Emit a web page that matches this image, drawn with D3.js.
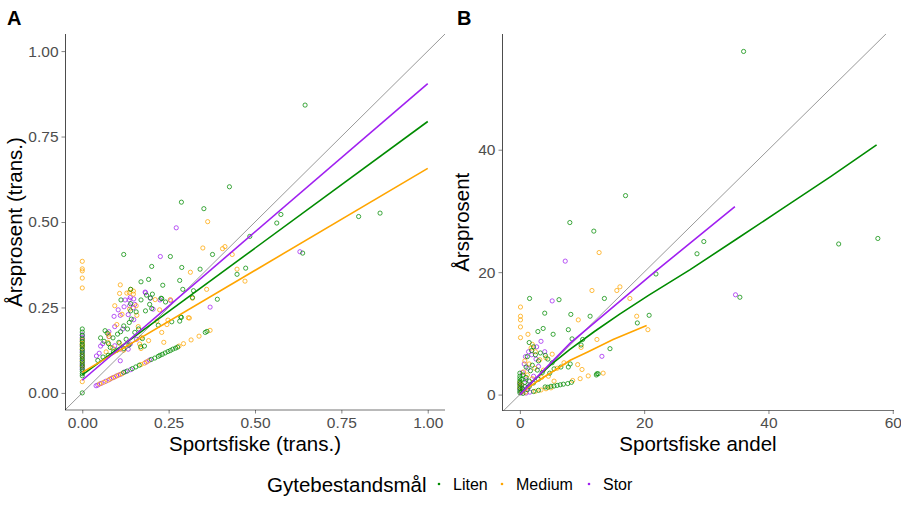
<!DOCTYPE html>
<html><head><meta charset="utf-8">
<script src="https://cdn.jsdelivr.net/npm/d3@7"></script>
<style>
body{margin:0;background:#fff;}
svg{font-family:"Liberation Sans",Arial,sans-serif;}
</style></head>
<body><svg id="c" width="901" height="507"></svg>
<script>
// ---------- DATA ----------
const groups = ["Liten","Medium","Stor"];
const groupColors = ["#008B00","#FFA500","#A020F0"];
const ticksA = [0,0.25,0.5,0.75,1];
const ticksBx = [0,20,40,60];
const ticksBy = [0,20,40];

// Panel A (transformed) points
const aLiten = [[0.645,0.842],[0.426,0.603],[0.287,0.558],[0.352,0.539],[0.800,0.516],[0.862,0.526],[0.575,0.522],[0.563,0.497],[0.485,0.458],[0.638,0.409],[0.377,0.405],[0.255,0.399],[0.120,0.405],[0.201,0.370],[0.288,0.367],[0.341,0.362],[0.473,0.365],[0.448,0.347],[0.282,0.329],[0.170,0.325],[0.233,0.315],[0.192,0.332],[0.291,0.303],[0.322,0.299],[0.319,0.279],[0.391,0.274],[0.230,0.276],[0.140,0.303],[0.259,0.208],[0.282,0.210],[0.287,0.221],[0.220,0.198],
[0.112,0.272],[0.140,0.261],[0.195,0.259],[0.197,0.278],[0.186,0.286],[0.203,0.289],[0.170,0.272],[0.156,0.237],[0.140,0.240],[0.183,0.240],[0.201,0.247],[0.228,0.277],[0.241,0.266],[0.136,0.206],[0.142,0.216],[0.131,0.187],[0.120,0.196],[0.111,0.179],[0.102,0.172],[0.089,0.161],[0.066,0.182],[0.053,0.161],[0.076,0.144],[0.063,0.151],[0.072,0.175],[0.180,0.137],[0.174,0.159],[0.169,0.135],[0.152,0.177],[0.163,0.187],[0.106,0.148],[0.127,0.157],[0.081,0.133],[0.285,0.222],[0.045,0.095],[0.060,0.105],[0.075,0.110],[0.090,0.120],[0.100,0.125],[0.120,0.130],[0.135,0.140],
[0,0.187],[0,0.178],[0,0.168],[0,0.158],[0,0.150],[0,0.142],[0,0.135],[0,0.127],[0,0.120],[0,0.113],[0,0.106],[0,0.099],[0,0.092],[0,0.085],[0,0.078],[0,0.070],[0,0.063],[0,0.056],[0,0.050],[0,0.0],
[0.120,0.060],[0.130,0.064],[0.145,0.071],[0.155,0.076],[0.165,0.081],[0.200,0.098],[0.210,0.102],[0.220,0.107],[0.225,0.110],[0.232,0.113],[0.240,0.117],[0.248,0.121],[0.255,0.124],[0.262,0.128],[0.270,0.131],[0.276,0.134],[0.361,0.180],[0.356,0.177]];
const aMedium = [[0.363,0.501],[0.349,0.424],[0.406,0.422],[0.413,0.428],[0.434,0.405],[0.448,0.362],[0.471,0.327],[0.313,0.353],[0.360,0.303],[0.319,0.277],[0.255,0.273],[0.110,0.316],[0.310,0.219],[0.230,0.177],[0.236,0.148],
[0.140,0.303],[0.136,0.294],[0.148,0.298],[0.148,0.289],[0.129,0.292],[0.108,0.291],[0.137,0.245],[0.156,0.255],[0.158,0.227],[0.162,0.194],[0.211,0.273],[0.224,0.243],[0.216,0.210],[0.245,0.200],[0.076,0.172],[0.078,0.165],[0.074,0.148],[0.087,0.132],[0.108,0.145],[0.094,0.255],[0.166,0.143],[0.171,0.162],[0.192,0.153],[0.069,0.120],[0.248,0.213],[0.307,0.220],[0.115,0.230],[0.100,0.200],[0.120,0.125],[0.170,0.130],
[0,0.385],[0,0.363],[0,0.357],[0,0.336],[0,0.307],[0,0.155],[0,0.145],[0,0.140],[0,0.130],[0,0.110],[0,0.095],[0,0.080],[0,0.033],
[0.050,0.026],[0.062,0.031],[0.075,0.037],[0.085,0.043],[0.095,0.047],[0.105,0.052],[0.115,0.056],[0.170,0.083],[0.180,0.087],[0.190,0.093],[0.280,0.137],[0.293,0.144],[0.315,0.155],[0.338,0.166],[0.370,0.183]];
const aStor = [[0.272,0.483],[0.226,0.399],[0.183,0.293],[0.370,0.251],[0.197,0.277],[0.630,0.413],
[0.124,0.272],[0.136,0.272],[0.149,0.275],[0.139,0.279],[0.152,0.259],[0.137,0.255],[0.121,0.252],[0.148,0.249],[0.092,0.224],[0.110,0.227],[0.104,0.243],[0.133,0.229],[0.149,0.214],[0.182,0.295],[0.205,0.245],[0.225,0.272],[0.256,0.270],[0.077,0.179],[0.059,0.144],[0.053,0.137],[0.041,0.108],[0.049,0.116],[0.077,0.165],[0.094,0.138],[0.110,0.128],[0.117,0.187],[0.139,0.143],[0.110,0.094],[0.157,0.157],[0.133,0.128],[0.094,0.194],
[0,0.170],[0,0.162],[0,0.152],[0,0.138],[0,0.125],[0,0.118],[0,0.108],[0,0.100],[0,0.090],[0,0.082],[0,0.075],[0,0.068],
[0.040,0.021],[0.045,0.023],[0.055,0.028],[0.068,0.034],[0.080,0.040],[0.090,0.045],[0.100,0.050],[0.110,0.054],[0.125,0.062],[0.140,0.068],[0.185,0.090],[0.195,0.096]];

// Panel A fitted lines
const aFitLiten = [[0,0.053],[1,0.794]];
const aFitMedium = [[0,0.060],[1,0.657]];
const aFitStor = [[0,0.037],[1,0.905]];

// Panel B (raw share) points
const bLiten = [[36.0,56.05],[17.0,32.5],[8.04,28.1],[11.9,26.7],[57.6,25.5],[51.3,24.6],[29.6,25.0],[28.5,23.0],[21.9,19.7],[35.4,15.9],[1.56,15.7],[6.3,15.5],[13.6,15.7],[4.0,13.3],[8.2,13.1],[11.3,12.8],[20.8,12.95],[18.9,11.7],[3.75,10.8],[2.9,10.3],[7.8,10.6],[5.35,9.85],[8.4,9.1],[10.1,9.0],[9.85,8.1],[14.5,7.5],[12.4,3.4],[7.8,4.5],[6.6,4.5],[8.1,5.0],
[1.5,8.5],[2.2,7.8],[1.9,7.2],[1.2,6.2],[2.5,6.5],[3.3,6.8],[4.1,6.4],[3.0,5.5],[4.5,5.8],[5.2,5.2],[1.0,4.5],[2.0,4.8],[1.7,3.9],[2.8,4.0],[3.6,3.6],[4.8,3.5],[0.5,3.2],[1.0,2.8],[0.3,2.5],[0.8,2.0],[1.5,2.2],[2.2,1.9],[0,3.5],[0,3.0],[0,2.6],[0,2.2],[0,1.8],[0,1.4],[0,1.0],[0,0.6],[0,0.3],[0.4,1.0],[0.8,1.3],[1.2,0.8],[0.5,0.2],[1.5,1.3],[3.0,2.5],[5.5,4.2],[0.3,0.6],
[2.2,0.5],[3.0,0.7],[4.07,1.25],[4.5,1.2],[5.0,1.35],[5.5,1.4],[6.0,1.5],[6.5,1.6],[7.0,1.7],[7.7,1.8],[8.3,2.0],[12.3,3.2],[12.6,3.4]];
const bMedium = [[12.75,23.2],[11.6,17.0],[15.6,17.0],[16.1,17.6],[17.7,15.7],[18.8,12.8],[20.6,10.6],[9.4,12.2],[12.4,9.0],[9.85,7.7],[9.3,4.9],[13.4,3.5],[11.0,3.05],[9.7,2.6],[8.5,2.3],[0.1,14.3],[0.1,12.8],[0.1,12.2],[0.1,11.05],[0.1,9.3],[1.3,9.85],[10.0,4.1],[6.0,4.3],[7.1,5.2],[5.2,6.6],
[2.0,8.2],[1.8,7.6],[2.5,7.0],[0.8,5.5],[1.5,5.0],[3.2,5.7],[4.2,6.0],[2.4,4.3],[3.8,4.0],[0.6,3.7],[1.2,3.2],[2.0,2.6],[0,2.0],[0,1.2],[0.3,0.5],[0.9,0.4],[3.5,2.8],[4.6,3.0],[5.5,2.2],[0.2,1.6],
[2.5,0.55],[3.4,0.75],[4.2,0.95],[5.0,1.1]];
const bStor = [[7.3,21.8],[5.2,15.3],[34.7,16.3],[13.2,6.25],[3.4,8.7],
[2.7,7.8],[1.4,7.0],[0.9,6.2],[1.9,6.5],[2.6,5.8],[0.7,5.0],[1.3,4.3],[3.0,4.6],[0.4,3.6],[1.0,2.4],[0.3,1.5],[0.6,0.8],[0,1.7],[0,0.9],[1.6,1.6],[2.2,3.0],[0.2,0.3],[1.2,1.1],[4.0,7.0],
[1.0,0.25],[1.6,0.4]];

// Panel B fitted (back-transformed) lines
const bFitLiten = [[0,0],[2,2.1],[5,4.9],[8,7.35],[12,10.3],[16,13.1],[20.7,16.2],[27.4,20.4],[35,25.5],[42,30.2],[50,35.6],[57.4,40.8]];
const bFitMedium = [[0,0],[1,0.9],[3,2.3],[5.5,3.9],[8.1,5.6],[11,7.0],[15,9.0],[20.4,11.3]];
const bFitStor = [[0,0],[8.1,8.4],[21.9,20.2],[34.6,30.7]];

// ---------- DRAW ----------
const svg = d3.select("#c");
const FONT = '"Liberation Sans",Arial,sans-serif';
const drawOrder = [2,1,0];

function panel(opt){
  const g = svg.append("g");
  const x = d3.scaleLinear().domain(opt.xd).range([opt.l, opt.r]);
  const y = d3.scaleLinear().domain(opt.yd).range([opt.b, opt.t]);
  const cid = "clip"+opt.label;
  svg.append("clipPath").attr("id",cid).append("rect")
    .attr("x",opt.l).attr("y",opt.t).attr("width",opt.r-opt.l).attr("height",opt.b-opt.t);
  const plot = g.append("g").attr("clip-path",`url(#${cid})`);
  // points
  drawOrder.forEach(i=>{
    plot.append("g").selectAll("circle").data(opt.points[i]).join("circle")
      .attr("cx",d=>x(d[0])).attr("cy",d=>y(d[1])).attr("r",2.1)
      .attr("fill","none").attr("stroke",groupColors[i]).attr("stroke-width",0.75);
  });
  // 1:1 line
  const lo = Math.min(opt.xd[0],opt.yd[0]), hi = Math.max(opt.xd[1],opt.yd[1]);
  plot.append("line").attr("x1",x(lo)).attr("y1",y(lo)).attr("x2",x(hi)).attr("y2",y(hi))
    .attr("stroke","#333").attr("stroke-width",0.5);
  // fit lines
  const line = d3.line().x(d=>x(d[0])).y(d=>y(d[1]));
  opt.fits.forEach((f,i)=>{
    plot.append("path").attr("d",line(f)).attr("fill","none")
      .attr("stroke",groupColors[i]).attr("stroke-width",1.6);
  });
  // axes
  const ax = g.append("g").attr("transform",`translate(0,${opt.b})`)
    .call(d3.axisBottom(x).tickValues(opt.xt).tickFormat(opt.fmt).tickSize(3.5).tickPadding(3));
  const ay = g.append("g").attr("transform",`translate(${opt.l},0)`)
    .call(d3.axisLeft(y).tickValues(opt.yt).tickFormat(opt.fmt).tickSize(3.5).tickPadding(3));
  [ax,ay].forEach(a=>{
    a.select(".domain").remove();
    a.selectAll(".tick line").attr("stroke","#333").attr("stroke-width",0.6);
    a.selectAll(".tick text").attr("fill","#4D4D4D").style("font-size","15.5px").style("font-family",FONT);
  });
  ax.selectAll(".tick text").attr("dy","0.71em");
  g.append("line").attr("x1",opt.l).attr("x2",opt.r).attr("y1",opt.b).attr("y2",opt.b)
    .attr("stroke","#000").attr("stroke-width",0.55);
  g.append("line").attr("x1",opt.l+0.5).attr("x2",opt.l+0.5).attr("y1",opt.t).attr("y2",opt.b)
    .attr("stroke","#000").attr("stroke-width",0.7);
  // titles
  g.append("text").attr("x",(opt.l+opt.r)/2).attr("y",451).attr("text-anchor","middle")
    .style("font-size","20.5px").text(opt.xtitle);
  g.append("text").attr("transform",`translate(${opt.ytx},${(opt.t+opt.b)/2}) rotate(-90)`)
    .attr("text-anchor","middle").style("font-size","20.5px").text(opt.ytitle);
  g.append("text").attr("x",opt.lx).attr("y",25).style("font-size","20px").style("font-weight","bold").text(opt.label);
}

panel({label:"A", l:65, r:445, t:34, b:410, xd:[-0.05,1.05], yd:[-0.05,1.05],
  xt:ticksA, yt:ticksA, fmt:d3.format(".2f"),
  points:[aLiten,aMedium,aStor], fits:[aFitLiten,aFitMedium,aFitStor],
  xtitle:"Sportsfiske (trans.)", ytitle:"Årsprosent (trans.)", ytx:22, lx:7});

panel({label:"B", l:502, r:894, t:34, b:410.5, xd:[-2.875,60.2], yd:[-2.6,58.9],
  xt:ticksBx, yt:ticksBy, fmt:d3.format("d"),
  points:[bLiten,bMedium,bStor], fits:[bFitLiten,bFitMedium,bFitStor],
  xtitle:"Sportsfiske andel", ytitle:"Årsprosent", ytx:469, lx:457});

// legend
const leg = svg.append("g");
leg.append("text").attr("x",267).attr("y",491.5).style("font-size","20.5px").text("Gytebestandsmål");
const legX = [439,502,589];
groups.forEach((gname,i)=>{
  leg.append("circle").attr("cx",legX[i]).attr("cy",484).attr("r",1.3).attr("fill",groupColors[i]);
  leg.append("text").attr("x",legX[i]+14).attr("y",490).style("font-size","16px").text(gname);
});
</script></body></html>
